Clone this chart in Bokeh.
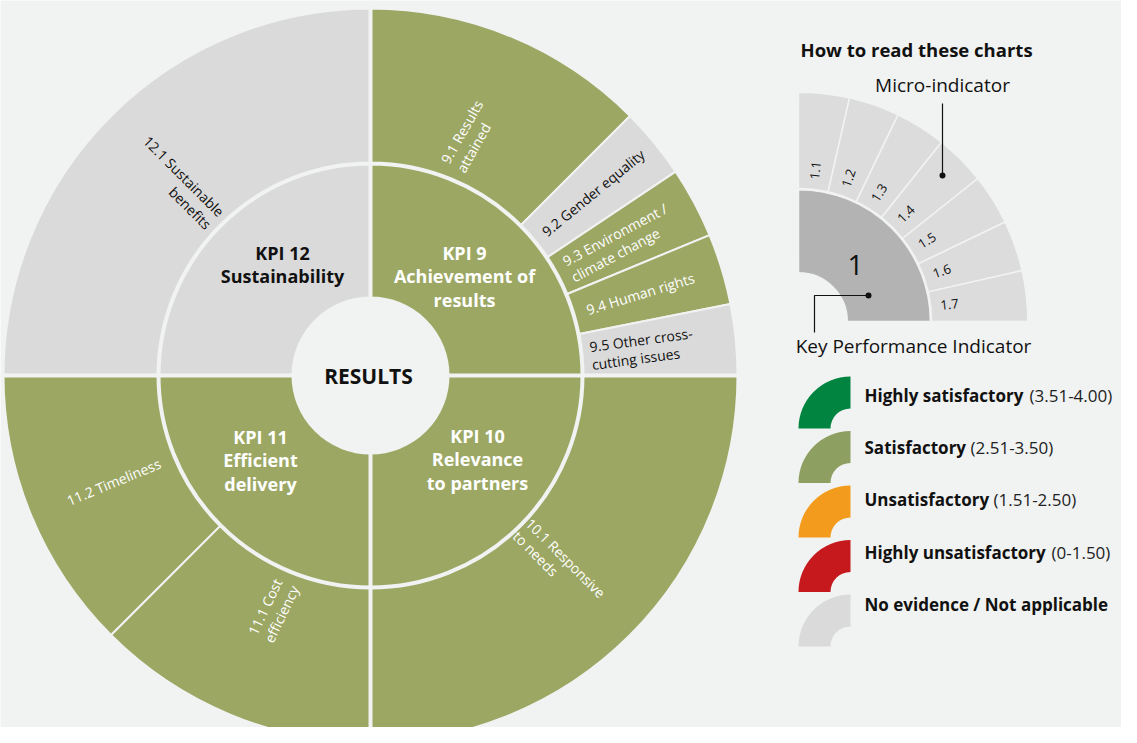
import numpy as np
from bokeh.plotting import figure
from bokeh.models import Range1d
from bokeh.core.properties import value
from bokeh.embed import file_html
from bokeh.resources import INLINE

# ---------------- data ----------------
centre_label = "RESULTS"

kpi_ids = ["KPI 9", "KPI 10", "KPI 11", "KPI 12"]
kpi_names = ["Achievement of\nresults", "Relevance\nto partners", "Efficient\ndelivery", "Sustainability"]
kpi_ratings = ["Satisfactory", "Satisfactory", "Satisfactory", "No evidence"]

micro_labels = ["9.1 Results\nattained", "9.2 Gender equality", "9.3 Environment /\nclimate change",
                "9.4 Human rights", "9.5 Other cross-\ncutting issues", "10.1 Responsive\nto needs",
                "11.1 Cost\nefficiency", "11.2 Timeliness", "12.1 Sustainable\nbenefits"]
micro_parent = [0, 0, 0, 0, 0, 1, 2, 2, 3]
micro_weights = [4, 1, 1, 1, 1, 1, 1, 1, 1]
micro_ratings = ["Satisfactory", "No evidence", "Satisfactory", "Satisfactory", "No evidence",
                 "Satisfactory", "Satisfactory", "Satisfactory", "No evidence"]

guide_title = "How to read these charts"
guide_kpi = "1"
guide_micro = ["1.1", "1.2", "1.3", "1.4", "1.5", "1.6", "1.7"]
guide_micro_caption = "Micro-indicator"
guide_kpi_caption = "Key Performance Indicator"

legend_names = ["Highly satisfactory", "Satisfactory", "Unsatisfactory", "Highly unsatisfactory",
                "No evidence / Not applicable"]
legend_ranges = ["(3.51-4.00)", "(2.51-3.50)", "(1.51-2.50)", "(0-1.50)", ""]
legend_ratings = ["Highly satisfactory", "Satisfactory", "Unsatisfactory", "Highly unsatisfactory",
                  "No evidence"]

# ---------------- styles / layout ----------------
BG = "#f1f3f2"
rating_colour = {"Highly satisfactory": "#00843f", "Satisfactory": "#9ca764",
                 "Unsatisfactory": "#f39b1c", "Highly unsatisfactory": "#c5191d",
                 "No evidence": "#dadada"}
legend_colour = {"Highly satisfactory": "#00843f", "Satisfactory": "#8e9f62",
                 "Unsatisfactory": "#f39b1c", "Highly unsatisfactory": "#c5191d",
                 "No evidence": "#dadada"}
DARK = "#111111"
FONT = value("Open Sans")


def text_col(r):
    return DARK if r == "No evidence" else "white"


R_HOLE, R_KPI, R_MIC_IN, R_OUT = 78, 211, 213, 367

kpi_label_xy = [(94, 99), (107, -84), (-110, -85), (-88, 111)]
micro_label_r = [259, 288, 282, 282, 273, 267, 254, 278, 273]
micro_label_rot_adj = [-7, 0, 0, 0, 2, 0, -3, 0, 0]
micro_label_align = ["left"] * 8 + ["right"]

p = figure(width=1121, height=727, x_range=Range1d(-370, 751), y_range=Range1d(-352, 375),
           output_backend="svg", toolbar_location=None, min_border=0,
           x_axis_type=None, y_axis_type=None)
p.grid.visible = False
p.outline_line_color = None
p.background_fill_color = BG
p.border_fill_color = BG


def rad_from_bearing(b):
    return np.radians(90.0 - np.asarray(b, dtype=float))


# ---------- KPI ring ----------
kpi_b0 = np.array([90.0 * k for k in range(len(kpi_ids))])
kpi_b1 = kpi_b0 + 90.0
p.annular_wedge(x=0, y=0, inner_radius=R_HOLE, outer_radius=R_KPI,
                start_angle=rad_from_bearing(kpi_b1), end_angle=rad_from_bearing(kpi_b0),
                fill_color=[rating_colour[r] for r in kpi_ratings],
                line_color=BG, line_width=2)

# ---------- micro ring ----------
mb0, mb1 = [], []
for k in range(len(kpi_ids)):
    idx = [i for i, par in enumerate(micro_parent) if par == k]
    tot = sum(micro_weights[i] for i in idx)
    acc = kpi_b0[k]
    for i in idx:
        span = 90.0 * micro_weights[i] / tot
        mb0.append(acc)
        mb1.append(acc + span)
        acc += span
mb0, mb1 = np.array(mb0), np.array(mb1)
p.annular_wedge(x=0, y=0, inner_radius=R_MIC_IN, outer_radius=R_OUT,
                start_angle=rad_from_bearing(mb1), end_angle=rad_from_bearing(mb0),
                fill_color=[rating_colour[r] for r in micro_ratings],
                line_color=BG, line_width=2)

# quadrant separators
for b in kpi_b0:
    a = rad_from_bearing(b)
    p.segment(x0=0, y0=0, x1=375 * np.cos(a), y1=375 * np.sin(a), line_color=BG, line_width=4)

p.circle(x=0, y=0, radius=R_HOLE, fill_color=BG, line_color=None)

# centre label
p.text(x=[-2], y=[0], text=[centre_label], text_font=FONT, text_font_style="bold",
       text_font_size="21px", text_align="center", text_baseline="middle", text_color=DARK)

# KPI labels
for k in range(len(kpi_ids)):
    p.text(x=[kpi_label_xy[k][0]], y=[kpi_label_xy[k][1]], text=[kpi_ids[k] + "\n" + kpi_names[k]],
           text_font=FONT, text_font_style="bold", text_font_size="18px",
           text_align="center", text_baseline="middle", anchor=value("center"),
           text_line_height=0.98, text_color=text_col(kpi_ratings[k]))

# micro labels
mid = (mb0 + mb1) / 2
for i in range(len(micro_labels)):
    a_rad = rad_from_bearing(mid[i])
    rot = 90.0 - mid[i]
    while rot <= -90:
        rot += 180
    while rot > 90:
        rot -= 180
    rot += micro_label_rot_adj[i]
    r = micro_label_r[i]
    p.text(x=[r * np.cos(a_rad)], y=[r * np.sin(a_rad)], text=[micro_labels[i]],
           angle=np.radians(rot), text_font=FONT, text_font_size="14px",
           text_align=micro_label_align[i], text_baseline="middle", anchor=value("center"),
           text_line_height=0.95, text_color=text_col(micro_ratings[i]))

# ---------- guide ----------
GX, GY, S = 428, 54, 0.625
p.text(x=[430], y=[326], text=[guide_title], text_font=FONT, text_font_style="bold",
       text_font_size="18.5px", text_align="left", text_baseline="middle", text_color=DARK)
p.annular_wedge(x=GX, y=GY, inner_radius=R_HOLE * S, outer_radius=R_KPI * S,
                start_angle=0, end_angle=np.pi / 2, fill_color="#b3b3b3", line_color=BG, line_width=1.5)
n = len(guide_micro)
gb0 = np.array([90.0 * j / n for j in range(n)])
gb1 = gb0 + 90.0 / n
p.annular_wedge(x=GX, y=GY, inner_radius=R_MIC_IN * S, outer_radius=R_OUT * S,
                start_angle=rad_from_bearing(gb1), end_angle=rad_from_bearing(gb0),
                fill_color="#dcdcdc", line_color=BG, line_width=1.5)
gmid = (gb0 + gb1) / 2
ga = rad_from_bearing(gmid)
p.text(x=GX + 152 * np.cos(ga), y=GY + 152 * np.sin(ga), text=guide_micro, angle=ga,
       text_font=FONT, text_font_size="13px", text_align="center", text_baseline="middle",
       text_color=DARK)
p.text(x=[GX + 57], y=[GY + 57], text=[guide_kpi], text_font=FONT, text_font_size="28px",
       text_align="center", text_baseline="middle", text_color=DARK)

p.text(x=[572], y=[291], text=[guide_micro_caption], text_font=FONT, text_font_size="19px",
       text_align="center", text_baseline="middle", text_color=DARK)
p.segment(x0=572, y0=272, x1=572, y1=200, line_color=DARK, line_width=1.2)
p.scatter(x=[572], y=[200], size=6, fill_color=DARK, line_color=None)

p.text(x=[543], y=[30], text=[guide_kpi_caption], text_font=FONT, text_font_size="19px",
       text_align="center", text_baseline="middle", text_color=DARK)
p.line(x=[498, 444, 444], y=[80, 80, 43], line_color=DARK, line_width=1.2)
p.scatter(x=[498], y=[80], size=6, fill_color=DARK, line_color=None)

# ---------- rating legend ----------
icon_y = [-53 - 54.5 * i for i in range(len(legend_names))]
text_y = [-20 - 52.2 * i for i in range(len(legend_names))]
range_x = [659, 600, 623, 681, 0]
p.annular_wedge(x=480, y=icon_y, inner_radius=20, outer_radius=52,
                start_angle=np.pi / 2, end_angle=np.pi,
                fill_color=[legend_colour[r] for r in legend_ratings], line_color=None)
p.text(x=494, y=text_y, text=legend_names, text_font=FONT, text_font_style="bold",
       text_font_size="17px", text_align="left", text_baseline="middle", text_color=DARK)
for i in range(len(legend_names)):
    if legend_ranges[i]:
        p.text(x=[range_x[i]], y=[text_y[i]], text=[legend_ranges[i]], text_font=FONT,
               text_font_size="17px", text_align="left", text_baseline="middle", text_color="#222222")

html = file_html(p, INLINE)
html = html.replace("<body>", '<body style="background-color:#f1f3f2;">', 1)
open("out.html", "w").write(html)
